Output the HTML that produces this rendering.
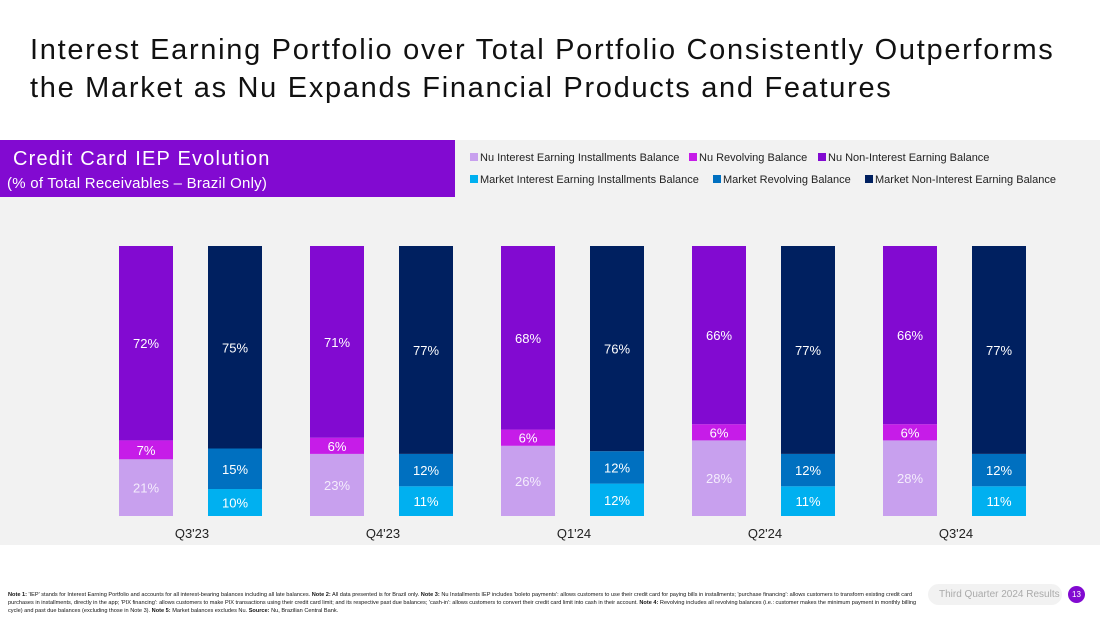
<!DOCTYPE html>
<html><head><meta charset="utf-8">
<style>
body{margin:0;width:1100px;height:619px;overflow:hidden;background:#fff;font-family:"Liberation Sans",sans-serif;position:relative}
.title{position:absolute;left:30px;top:31px;font-size:29px;line-height:38px;color:#111;letter-spacing:1.7px;white-space:nowrap}
.panel{position:absolute;left:0;top:140px;width:1100px;height:405px;background:#f2f2f2}
.hdr{position:absolute;left:0;top:140px;width:455px;height:57px;background:#820ad1;color:#fff}
.hdr .a{position:absolute;left:13px;top:8px;font-size:20px;letter-spacing:1.2px}
.hdr .b{position:absolute;left:7px;top:35px;font-size:15px;letter-spacing:0.25px}
.lg{position:absolute;font-size:11px;color:#222;white-space:nowrap}
.lg i{display:inline-block;width:8px;height:8px;margin-right:2px;vertical-align:0px}
.notes{position:absolute;left:8px;top:591px;width:915px;font-size:5.6px;line-height:8px;color:#111}
.pill{position:absolute;left:928px;top:584px;width:134px;height:21px;border-radius:11px;background:#f2f2f2;color:#aaa;font-size:10px;line-height:21px;text-indent:11px}
.pg{position:absolute;left:1068px;top:586px;width:17px;height:17px;border-radius:50%;background:#820ad1;color:#fff;font-size:8px;line-height:17px;text-align:center}
</style></head><body>
<div class="title">Interest Earning Portfolio over Total Portfolio Consistently Outperforms<br>the Market as Nu Expands Financial Products and Features</div>
<div class="panel"></div>
<div class="hdr"><div class="a">Credit Card IEP Evolution</div><div class="b">(% of Total Receivables – Brazil Only)</div></div>
<div class="lg" style="left:470px;top:152px"><i style="background:#c8a0ee"></i>Nu Interest Earning Installments Balance</div>
<div class="lg" style="left:689px;top:152px"><i style="background:#c61ce8"></i>Nu Revolving Balance</div>
<div class="lg" style="left:818px;top:152px"><i style="background:#820ad1"></i>Nu Non-Interest Earning Balance</div>
<div class="lg" style="left:470px;top:174px"><i style="background:#00b0f0"></i>Market Interest Earning Installments Balance</div>
<div class="lg" style="left:713px;top:174px"><i style="background:#0070c0"></i>Market Revolving Balance</div>
<div class="lg" style="left:865px;top:174px"><i style="background:#002060"></i>Market Non-Interest Earning Balance</div>
<svg id="chart" width="1100" height="619" style="position:absolute;left:0;top:0"></svg>
<div class="notes"><b>Note 1:</b> 'IEP' stands for Interest Earning Portfolio and accounts for all interest-bearing balances including all late balances. <b>Note 2:</b> All data presented is for Brazil only. <b>Note 3:</b> Nu Installments IEP includes 'boleto payments': allows customers to use their credit card for paying bills in installments; 'purchase financing': allows customers to transform existing credit card purchases in installments, directly in the app; 'PIX financing': allows customers to make PIX transactions using their credit card limit; and its respective past due balances; 'cash-in': allows customers to convert their credit card limit into cash in their account. <b>Note 4:</b> Revolving includes all revolving balances (i.e.: customer makes the minimum payment in monthly billing cycle) and past due balances (excluding those in Note 3). <b>Note 5:</b> Market balances excludes Nu. <b>Source:</b> Nu, Brazilian Central Bank.</div>
<div class="pill">Third Quarter 2024 Results</div>
<div class="pg">13</div>
<script>
const categories=["Q3'23","Q4'23","Q1'24","Q2'24","Q3'24"];
const nuInstallments=[21,23,26,28,28];
const nuRevolving=[7,6,6,6,6];
const nuNonInterest=[72,71,68,66,66];
const mktInstallments=[10,11,12,11,11];
const mktRevolving=[15,12,12,12,12];
const mktNonInterest=[75,77,76,77,77];
const NS="http://www.w3.org/2000/svg";
const svg=document.getElementById('chart');
const base=516,H=270,barW=54;
function y(v){return base-v/100*H;}
function cx(i){return 190+i*191;}
function stack(x,series,colors,names,i){
  let acc=0;
  series.forEach((s,k)=>{
    const v=s[i],y0=y(acc),y1=y(acc+v);
    const r=document.createElementNS(NS,'rect');
    r.setAttribute('x',x);r.setAttribute('y',y1);r.setAttribute('width',barW);r.setAttribute('height',y0-y1);r.setAttribute('fill',colors[k]);
    
    
    svg.appendChild(r);
    const t=document.createElementNS(NS,'text');
    t.setAttribute('x',x+barW/2);t.setAttribute('y',(y0+y1)/2+5);t.setAttribute('text-anchor','middle');
    t.setAttribute('font-size','13');t.setAttribute('fill',k===0&&colors[0]==='#c8a0ee'?'#f4ecfc':'#fff');t.textContent=v+'%';
    
    
    svg.appendChild(t);
    acc+=v;
  });
}
categories.forEach((c,i)=>{
  stack(cx(i)-71,[nuInstallments,nuRevolving,nuNonInterest],['#c8a0ee','#c61ce8','#820ad1'],['bar-nu-installments','bar-nu-revolving','bar-nu-non-interest'],i);
  stack(cx(i)+18,[mktInstallments,mktRevolving,mktNonInterest],['#00b0f0','#0070c0','#002060'],['bar-market-installments','bar-market-revolving','bar-market-non-interest'],i);
  const t=document.createElementNS(NS,'text');
  t.setAttribute('x',cx(i)+2);t.setAttribute('y',538);t.setAttribute('text-anchor','middle');t.setAttribute('font-size','13');t.setAttribute('fill','#222');
  t.textContent=c;
  
  
  svg.appendChild(t);
});
</script>
</body></html>
